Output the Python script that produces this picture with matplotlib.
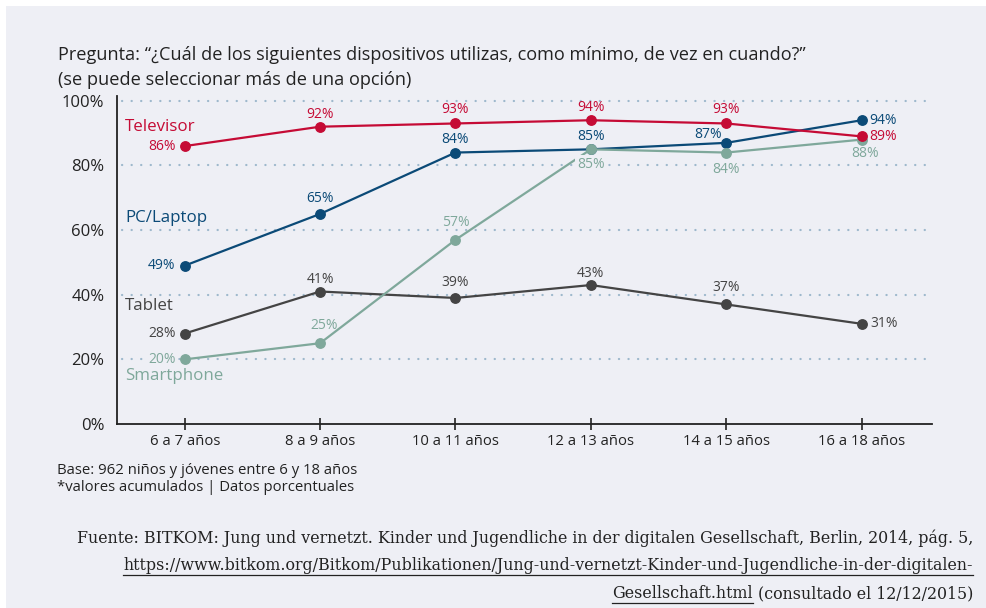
import numpy as np
import matplotlib
matplotlib.use("Agg")
import matplotlib.pyplot as plt
from matplotlib.lines import Line2D
from matplotlib.patches import Rectangle

# data
age_groups = ["6 a 7 años", "8 a 9 años", "10 a 11 años", "12 a 13 años", "14 a 15 años", "16 a 18 años"]
televisor = [86, 92, 93, 94, 93, 89]
pc_laptop = [49, 65, 84, 85, 87, 94]
tablet = [28, 41, 39, 43, 37, 31]
smartphone = [20, 25, 57, 85, 84, 88]
y_ticks = [0, 20, 40, 60, 80, 100]

W, H = 987, 608
BG = "#eeeff5"
TXT = "#222222"

plt.rcParams["font.family"] = ["Open Sans", "DejaVu Sans"]

fig = plt.figure(figsize=(W / 100, H / 100), dpi=100)
fig.patch.set_facecolor("white")
fig.add_artist(Rectangle((6 / W, 0), 1, 1 - 6 / H, transform=fig.transFigure,
                         facecolor=BG, edgecolor="none", zorder=-10))

ax = fig.add_axes([117 / W, 1 - 424 / H, (932 - 117) / W, (424 - 96) / H])
ax.set_facecolor("none")
ax.set_xlim(-0.5, 5.52)
ax.set_ylim(0, 101.5)
x = np.arange(len(age_groups))

# dotted grid
for g in y_ticks[1:]:
    ax.plot([-0.46, 5.48], [g, g], color="#9db8cc", lw=1.6,
            linestyle=(0, (0.1, 4.2)), dash_capstyle="round", zorder=1)

# series: name, values, colour, label placements (dx, dy in px, ha), name position
series = [
    ("Tablet", tablet, "#444444",
     [(-9, 0, "right"), (0, 12, "center"), (0, 15, "center"), (0, 12, "center"), (0, 17, "center"), (9, 0, "left")],
     36.5),
    ("PC/Laptop", pc_laptop, "#0b4a77",
     [(-9, 0, "right"), (0, 15, "center"), (0, 13, "center"), (0, 13, "center"), (-18, 8, "center"), (8, 0, "left")],
     63.8),
    ("Smartphone", smartphone, "#7fa89b",
     [(-9, 0, "right"), (4, 18, "center"), (0, 17, "center"), (0, -15, "center"), (0, -17, "center"), (3, -14, "center")],
     14.9),
    ("Televisor", televisor, "#c50b35",
     [(-9, 0, "right"), (0, 12, "center"), (0, 14, "center"), (0, 13, "center"), (0, 14, "center"), (8, 0, "left")],
     92.0),
]
boxed = {("Smartphone", 0), ("Smartphone", 3), ("Smartphone", 4)}

for z, (name, vals, col, places, name_y) in enumerate(series):
    ax.plot(x, vals, color=col, lw=1.6, marker="o", markersize=6.8, zorder=3 + z)
    for i, v in enumerate(vals):
        dx, dy, ha = places[i]
        bbox = None
        if (name, i) in boxed:
            bbox = dict(boxstyle="square,pad=0.15", facecolor=BG, edgecolor="none")
        ax.annotate(f"{v}%", (x[i], v), xytext=(dx * 0.72, dy * 0.72), textcoords="offset points",
                    ha=ha, va="center", fontsize=10, color=col, bbox=bbox, zorder=8)
    ax.text(-0.44, name_y, name, color=col, fontsize=12.2, ha="left", va="center", zorder=8)

for s in ["top", "right"]:
    ax.spines[s].set_visible(False)
ax.spines["left"].set_color(TXT)
ax.spines["bottom"].set_color(TXT)
ax.spines["left"].set_linewidth(1.3)
ax.spines["bottom"].set_linewidth(1.3)

ax.set_yticks(y_ticks)
ax.set_yticklabels([f"{t}%" for t in y_ticks])
ax.tick_params(axis="y", length=0, pad=9, labelsize=12, labelcolor=TXT)
ax.set_xticks(x)
ax.set_xticklabels(age_groups)
ax.tick_params(axis="x", direction="inout", length=8, width=1.2, color=TXT,
               pad=3, labelsize=10.7, labelcolor=TXT)

# title and notes
fig.text(58 / W, 1 - 60 / H, "Pregunta: “¿Cuál de los siguientes dispositivos utilizas, como mínimo, de vez en cuando?”",
         fontsize=13.1, color=TXT, ha="left", va="baseline")
fig.text(58 / W, 1 - 85 / H, "(se puede seleccionar más de una opción)",
         fontsize=13.1, color=TXT, ha="left", va="baseline")
fig.text(57 / W, 1 - 474 / H, "Base: 962 niños y jóvenes entre 6 y 18 años",
         fontsize=10.7, color=TXT, ha="left", va="baseline")
fig.text(57 / W, 1 - 491 / H, "*valores acumulados | Datos porcentuales",
         fontsize=10.7, color=TXT, ha="left", va="baseline")

# source in serif, right aligned, with underlined link
serif = dict(family="DejaVu Serif", fontsize=11.4, color=TXT, va="baseline")
right = 973 / W
fig.text(right, 1 - 543 / H,
         "Fuente: BITKOM: Jung und vernetzt. Kinder und Jugendliche in der digitalen Gesellschaft, Berlin, 2014, pág. 5,",
         ha="right", **serif)
link1 = fig.text(right, 1 - 570 / H,
                 "https://www.bitkom.org/Bitkom/Publikationen/Jung-und-vernetzt-Kinder-und-Jugendliche-in-der-digitalen-",
                 ha="right", **serif)
tail = fig.text(right, 1 - 598 / H, "(consultado el 12/12/2015)", ha="right", **serif)
fig.canvas.draw()
r = fig.canvas.get_renderer()
tb = tail.get_window_extent(r)
link2 = fig.text((tb.x0 - 5) / W, 1 - 598 / H, "Gesellschaft.html", ha="right", **serif)
fig.canvas.draw()
for t, base in [(link1, 570), (link2, 598)]:
    bb = t.get_window_extent(r)
    fig.add_artist(Line2D([bb.x0 / W, bb.x1 / W], [1 - (base + 5) / H] * 2,
                          transform=fig.transFigure, color=TXT, lw=0.9))

fig.savefig("out.png", dpi=100, facecolor=fig.get_facecolor())
